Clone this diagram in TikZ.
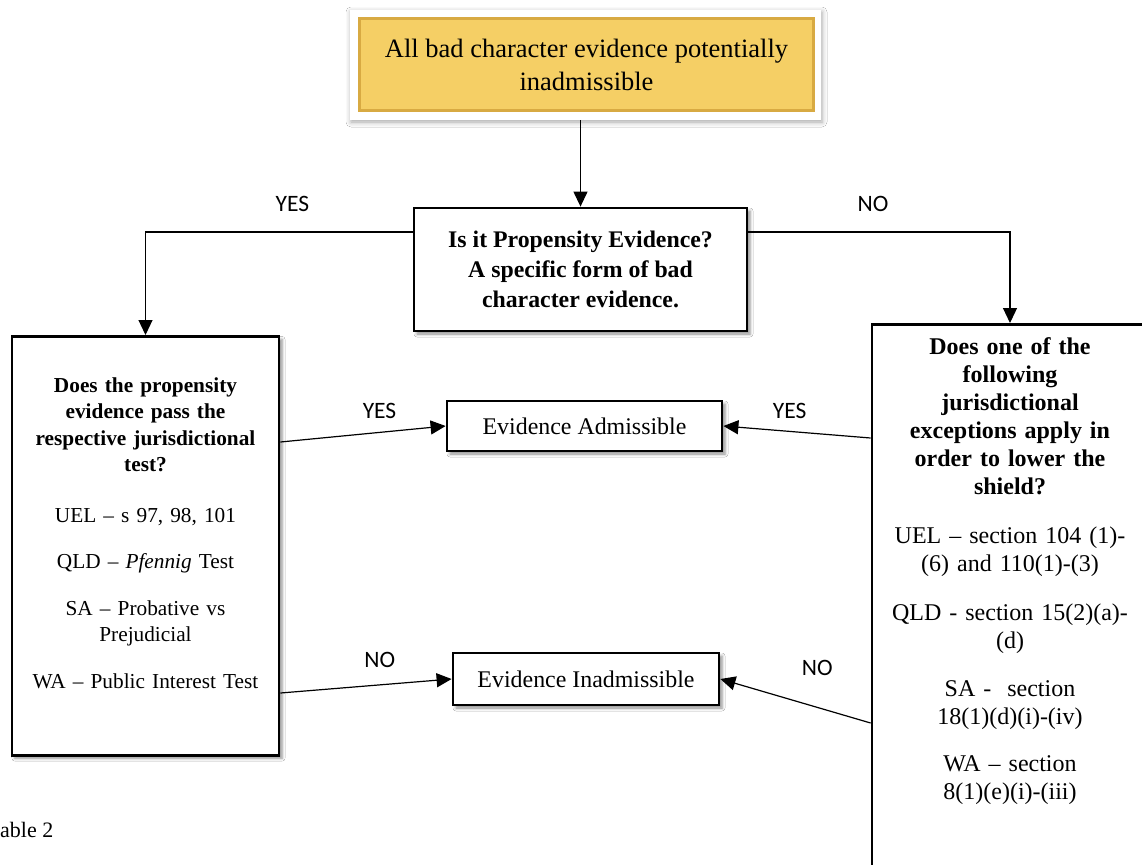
\documentclass[tikz,border=0pt]{standalone}
\usepackage{fontspec}
\setmainfont{Liberation Serif}
\newfontfamily\lblfont{Carlito}
\usetikzlibrary{arrows.meta,shadows.blur}
\definecolor{goldfill}{HTML}{F5CF65}
\definecolor{goldedge}{HTML}{D8AA42}
\begin{document}
\begin{tikzpicture}[x=1pt,y=-1pt]
    \tikzstyle{qbox}=[draw,rectangle,line width=2.8pt,fill=white,align=center,
      blur shadow={shadow xshift=3pt,shadow yshift=-3pt,shadow blur radius=3pt,shadow opacity=45}]
    \tikzstyle{lbl}=[font=\lblfont\fontsize{23.5}{24}\selectfont,inner sep=0pt]
    \tikzstyle{arr}=[line width=1.2pt,-{Triangle[length=15pt,width=14pt]}]
    \clip (0,0) rectangle (1142,864);
    \fill[white] (0,0) rectangle (1142,864);
    % top box
    \node[fill=white,minimum width=471,minimum height=110,
      blur shadow={shadow xshift=1pt,shadow yshift=-2pt,shadow blur radius=5pt,shadow opacity=35}]
      (frame) at (585.5,65) {};
    \node[draw=goldedge,line width=3pt,fill=goldfill,minimum width=454,minimum height=92,
      align=center,font=\fontsize{26.5}{33}\selectfont] (start) at (586.5,64.5)
      {All bad character evidence potentially\\inadmissible};
    % question boxes
    \node[qbox,minimum width=333,minimum height=123,
      font=\bfseries\fontsize{23.8}{30}\selectfont] (prop) at (580.5,269.5)
      {Is it Propensity Evidence?\\A specific form of bad\\character evidence.};
    \node[qbox,anchor=north,text width=243,inner xsep=12pt,inner ysep=41pt,
      font=\fontsize{21.3}{26.5}\selectfont] (test) at (145.5,335)
      {\textbf{Does the propensity\\evidence pass the\\respective jurisdictional\\test?}\\[24pt]
       UEL -- s 97, 98, 101\\[20pt]
       QLD -- \textit{Pfennig} Test\\[20pt]
       SA -- Probative vs\\Prejudicial\\[20pt]
       WA -- Public Interest Test\rule[-26pt]{0pt}{0pt}};
    \node[qbox,anchor=north,text width=252,inner xsep=12pt,inner ysep=13pt,
      font=\fontsize{24}{28}\selectfont] (excp) at (1010,323)
      {\textbf{Does one of the\\following\\jurisdictional\\exceptions apply in\\order to lower the\\shield?}\\[21pt]
       UEL -- section 104 (1)-\\(6) and 110(1)-(3)\\[21pt]
       QLD - section 15(2)(a)-\\(d)\\[20pt]
       SA -\ \ section\\18(1)(d)(i)-(iv)\\[19pt]
       WA -- section\\8(1)(e)(i)-(iii)\rule[-80pt]{0pt}{0pt}};
    % outcomes
    \node[qbox,minimum width=275,minimum height=50,font=\fontsize{23.9}{28}\selectfont]
      (adm) at (584.5,426) {Evidence Admissible};
    \node[qbox,minimum width=266,minimum height=52,font=\fontsize{23.9}{28}\selectfont]
      (inad) at (586,679) {Evidence Inadmissible};
    \node[anchor=base west,inner sep=0pt,font=\fontsize{22}{22}\selectfont]
      (cap) at (0,837) {able 2};
    % connectors
    \draw[arr] (frame.south -| prop.north) -- (prop.north);
    \draw[arr] ([yshift=37.5pt]prop.west) -| node[lbl,pos=.225,yshift=28pt] {YES} (test.north);
    \draw[arr] ([yshift=37.5pt]prop.east) -| node[lbl,pos=.238,yshift=28pt] {NO} (excp.north);
    \draw[arr] ([yshift=-107pt]test.north east) -- node[lbl,pos=.6,yshift=21pt] {YES} (adm.west);
    \draw[arr] ([yshift=-358pt]test.north east) -- node[lbl,pos=.58,yshift=25pt] {NO} (inad.west);
    \draw[arr] ([yshift=-115pt]excp.north west) -- node[lbl,pos=.55,yshift=20pt] {YES} (adm.east);
    \draw[arr] ([yshift=-400pt]excp.north west) -- node[lbl,pos=.355,yshift=39pt] {NO} (inad.east);
\end{tikzpicture}
\end{document}
